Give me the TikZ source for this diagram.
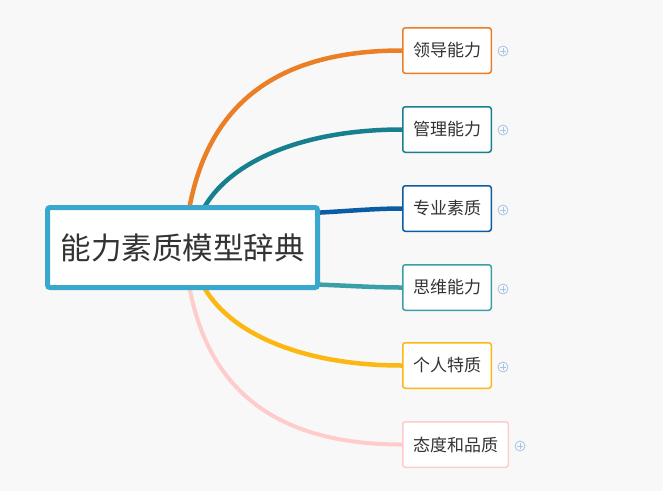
\documentclass[tikz,border=0pt]{standalone}
\usepackage{fontspec}
\setmainfont{Noto Sans CJK SC}
\usetikzlibrary{calc,backgrounds}
\definecolor{mmpaper}{HTML}{F8F8F8}
\definecolor{mmroot}{HTML}{3AA8CE}
\definecolor{mmorange}{HTML}{EB7F26}
\definecolor{mmteal}{HTML}{17808F}
\definecolor{mmblue}{HTML}{0A5CA5}
\definecolor{mmcyan}{HTML}{3A9FA6}
\definecolor{mmyellow}{HTML}{FCB713}
\definecolor{mmpink}{HTML}{FFCCCB}
\definecolor{mmicon}{HTML}{A9C3E0}
\definecolor{mmink}{HTML}{333333}

\tikzset{
  rootbox/.style={draw=mmroot,fill=white,line width=5pt,rounded corners=2.5pt,
    minimum width=270pt,minimum height=80pt,inner sep=0pt,
    font=\fontsize{30.5}{33}\selectfont,text=mmink},
  topic/.style={draw=#1,fill=white,line width=1.5pt,rounded corners=2.5pt,
    minimum width=88.5pt,minimum height=45.5pt,inner sep=0pt,
    font=\fontsize{17}{19}\selectfont,text=mmink},
  branch/.style={line width=4.5pt,line cap=round,draw=#1},
  expand/.style={circle,draw=mmicon,line width=0.8pt,minimum size=10pt,inner sep=0pt,
    path picture={
      \draw[mmicon,line width=0.8pt]
        ([xshift=-3.2pt]path picture bounding box.center) -- ([xshift=3.2pt]path picture bounding box.center)
        ([yshift=-3.2pt]path picture bounding box.center) -- ([yshift=3.2pt]path picture bounding box.center);}}
}

\begin{document}
\begin{tikzpicture}[x=1pt,y=-1pt]
  \useasboundingbox (0,0) rectangle (663,491);

  % central topic and branches
  \node[rootbox] (root) at (182.5,247.5) {能力素质模型辞典};
  \node[topic=mmorange] (lead) at (447,50.5) {领导能力};
  \node[topic=mmteal] (manage) at (447,129.5) {管理能力};
  \node[topic=mmblue] (expert) at (447,208.5) {专业素质};
  \node[topic=mmcyan] (think) at (447,287.5) {思维能力};
  \node[topic=mmyellow] (trait) at (447,365.5) {个人特质};
  \node[topic=mmpink,minimum width=105.5pt] (attitude) at (455.5,444.5) {态度和品质};

  % collapsed markers
  \node[expand] (leadx) at (503,51) {};
  \node[expand] (managex) at (503,130) {};
  \node[expand] (expertx) at (503,210) {};
  \node[expand] (thinkx) at (503,289) {};
  \node[expand] (traitx) at (503,367) {};
  \node[expand] (attitudex) at (520,446) {};

  \begin{pgfonlayer}{background}
    \fill[mmpaper] (0,0) rectangle (663,491);
    \draw[branch=mmorange] ($(root)+(3.5,-17.5)$) .. controls (200,110) and (270,50.5) .. (lead.west);
    \draw[branch=mmteal] ($(root)+(12.5,-17.5)$) .. controls (210,170) and (290,129.5) .. (manage.west);
    \draw[branch=mmblue] ($(root)+(117,-34)$) .. controls (340,212) and (370,208.5) .. (expert.west);
    \draw[branch=mmcyan] ($(root)+(117,36.5)$) .. controls (340,285) and (370,287.5) .. (think.west);
    \draw[branch=mmyellow] ($(root)+(12.5,17.5)$) .. controls (210,325) and (290,365.5) .. (trait.west);
    \draw[branch=mmpink,line width=4pt] ($(root)+(3.5,17.5)$) .. controls (200,385) and (270,444.5) .. (attitude.west);
  \end{pgfonlayer}
\end{tikzpicture}
\end{document}
